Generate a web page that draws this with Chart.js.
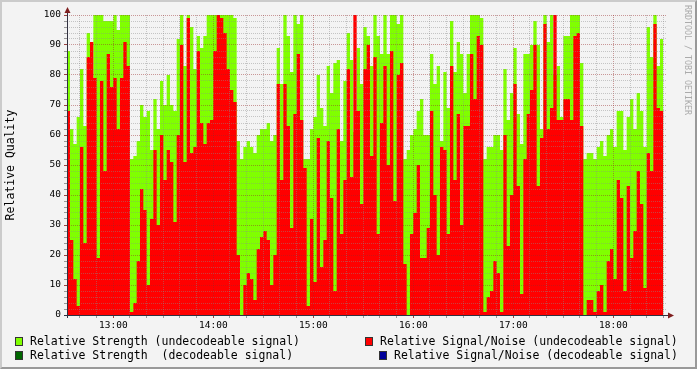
<!DOCTYPE html>
<html>
<head>
<meta charset="utf-8">
<script src="https://cdn.jsdelivr.net/npm/chart.js@4.4.1/dist/chart.umd.min.js"></script>
<style>
  html, body { margin: 0; padding: 0; background: #f3f3f3; }
  #wrap { position: relative; width: 697px; height: 369px; overflow: hidden; background: #f3f3f3; }
  #chart { position: absolute; left: 0; top: 0; }
  #frame { position: absolute; left: 0; top: 0; width: 697px; height: 369px; box-sizing: border-box;
           border-top: 2px solid #cbcbcb; border-left: 2px solid #cbcbcb;
           border-right: 2px solid #999; border-bottom: 2px solid #999; pointer-events: none; }
  #wm { position: absolute; left: 683px; top: 5px; writing-mode: vertical-rl; font: 8.3px 'DejaVu Sans Mono', monospace;
        line-height: 9px; color: #ababab; white-space: pre; }
  .sw { position: absolute; width: 6px; height: 7px; border: 1px solid #333; }
  .lt { position: absolute; font: 11.5px 'DejaVu Sans Mono', monospace; line-height: 14px; color: #000; white-space: pre; }
</style>
</head>
<body>
<div id="wrap">
  <canvas id="chart" width="697" height="369"></canvas>
  <div id="wm">RRDTOOL / TOBI OETIKER</div>
  <div class="sw" style="left:15px;top:337px;background:#80ff00"></div>
  <div class="lt" style="left:30px;top:334px">Relative Strength (undecodeable signal)</div>
  <div class="sw" style="left:365px;top:337px;background:#ff0000"></div>
  <div class="lt" style="left:380px;top:334px">Relative Signal/Noise (undecodeable signal)</div>
  <div class="sw" style="left:15px;top:351px;background:#006600"></div>
  <div class="lt" style="left:30px;top:348px">Relative Strength  (decodeable signal)</div>
  <div class="sw" style="left:379px;top:351px;background:#000099"></div>
  <div class="lt" style="left:394px;top:348px">Relative Signal/Noise (decodeable signal)</div>
  <div id="frame"></div>
</div>
<script>
// time in minutes since midnight, one value every 2 minutes from 12:32
const startMin = 752;
const stepMin = 2;

// Relative Strength (undecodeable signal)
const strength = [
  88,62,57,66,82,63,94,75,100,100, 100,98,98,98,100,95,100,100,100,52, 53,58,70,66,68,55,72,62,78,70,
  80,70,68,92,100,83,100,96,82,93, 89,93,100,100,100,100,100,100,100,100, 99,58,52,56,58,56,54,60,62,62,
  64,58,60,89,77,100,93,81,100,97, 100,52,52,62,66,80,69,63,83,74, 84,85,58,78,94,85,61,89,77,96,
  93,83,100,93,87,100,87,100,100,97, 100,52,55,60,62,68,72,60,60,87, 77,83,58,81,69,98,81,91,87,74,
  87,100,100,100,99,52,56,56,60,60, 55,82,65,74,89,67,57,87,87,90, 98,90,62,100,91,100,80,83,66,93,
  93,100,100,100,84,52,54,54,52,56, 58,53,60,62,56,68,68,55,66,72, 62,74,68,56,96,86,100,83,92
];

// Relative Signal/Noise (undecodeable signal)
const snr = [
  68,25,12,3,56,24,86,91,79,19, 78,48,87,76,79,62,79,91,83,1, 4,18,42,35,10,32,55,30,60,45,
  55,51,31,60,90,51,99,54,56,88, 64,57,64,65,88,100,99,94,82,75, 71,20,0,10,14,12,5,22,26,28,
  25,10,20,77,45,77,63,29,67,87, 65,49,3,32,11,59,16,25,58,39, 8,62,27,45,82,46,100,68,37,82,
  90,53,86,27,64,83,50,88,38,80, 84,17,0,27,34,50,19,19,29,68, 40,20,56,55,27,83,45,67,30,63,
  63,87,72,93,90,1,6,8,18,14, 1,60,23,40,77,43,7,52,67,75, 90,43,59,97,62,69,100,65,65,72,
  72,65,93,94,63,0,5,5,1,8, 10,1,18,22,12,45,39,8,43,19, 28,48,37,9,54,48,97,69,68
];

// grid / tick positions
const xTicks = [];
for (let m = 760; m <= 1110; m += 10) xTicks.push(m);
const yTicks = [];
for (let v = 0; v <= 100; v += 2) yTicks.push(v);

const monoFont = "'DejaVu Sans Mono', monospace";

function series(vals) {
  const pts = vals.map((v, i) => ({ x: startMin + i * stepMin, y: v }));
  pts.push({ x: startMin + vals.length * stepMin, y: vals[vals.length - 1] });
  return pts;
}

function hhmm(m) {
  const h = Math.floor(m / 60), mm = m % 60;
  return String(h).padStart(2, '0') + ':' + String(mm).padStart(2, '0');
}

const minorGrid = 'rgba(140,140,140,0.45)';
const majorGrid = 'rgba(150,40,40,0.45)';

// axis lines with the arrow heads
const axisArrows = {
  id: 'axisArrows',
  afterDraw(chart) {
    const { ctx, chartArea: a } = chart;
    ctx.save();
    ctx.strokeStyle = '#303040';
    ctx.lineWidth = 1;
    ctx.beginPath();
    ctx.moveTo(a.left + 0.5, a.bottom + 3);
    ctx.lineTo(a.left + 0.5, a.top - 6);
    ctx.moveTo(a.left - 3, a.bottom + 0.5);
    ctx.lineTo(a.right + 4, a.bottom + 0.5);
    ctx.stroke();
    ctx.fillStyle = '#7f1f1f';
    ctx.beginPath();
    ctx.moveTo(a.left - 2.5, a.top - 2);
    ctx.lineTo(a.left + 0.5, a.top - 8);
    ctx.lineTo(a.left + 3.5, a.top - 2);
    ctx.closePath();
    ctx.fill();
    ctx.beginPath();
    ctx.moveTo(a.right + 1, a.bottom - 2.5);
    ctx.lineTo(a.right + 7, a.bottom + 0.5);
    ctx.lineTo(a.right + 1, a.bottom + 3.5);
    ctx.closePath();
    ctx.fill();
    ctx.restore();
  }
};

const ctx = document.getElementById('chart').getContext('2d');
const chart = new Chart(ctx, {
  type: 'line',
  data: {
    datasets: [{
      label: 'Relative Signal/Noise (undecodeable signal)',
      data: series(snr),
      backgroundColor: '#ff0000',
      borderColor: 'rgba(0,0,0,0)',
      borderWidth: 0,
      pointRadius: 0,
      stepped: true,
      fill: 'origin'
    }, {
      label: 'Relative Strength (undecodeable signal)',
      data: series(strength),
      backgroundColor: '#80ff00',
      borderColor: 'rgba(0,0,0,0)',
      borderWidth: 0,
      pointRadius: 0,
      stepped: true,
      fill: 'origin'
    }]
  },
  options: {
    responsive: false,
    animation: false,
    events: [],
    layout: { padding: { top: 15, right: 30, bottom: 34, left: 0 } },
    plugins: {
      legend: { display: false },
      tooltip: { enabled: false }
    },
    scales: {
      x: {
        type: 'linear',
        min: 752.2,
        max: 1112.2,
        afterBuildTicks: s => { s.ticks = xTicks.map(v => ({ value: v })); },
        afterFit: s => { s.height = 20; },
        ticks: {
          autoSkip: false,
          maxRotation: 0,
          padding: 2,
          color: '#000',
          font: { family: monoFont, size: 9.5 },
          callback: v => (v % 60 === 0 ? hhmm(v) : '')
        },
        grid: {
          z: 1,
          color: c => (c.tick && c.tick.value % 60 === 0 ? majorGrid : minorGrid),
          tickColor: c => (c.tick && c.tick.value % 60 === 0 ? '#9a4040' : '#999'),
          tickLength: 3
        },
        border: { display: false, dash: [1, 1] }
      },
      y: {
        min: 0,
        max: 100,
        afterBuildTicks: s => { s.ticks = yTicks.map(v => ({ value: v })); },
        afterFit: s => { s.width = 67; },
        ticks: {
          autoSkip: false,
          padding: 3,
          color: '#000',
          font: { family: monoFont, size: 9.5 },
          callback: v => (v % 10 === 0 ? String(v) : '')
        },
        grid: {
          z: 1,
          color: c => (c.tick && c.tick.value % 10 === 0 ? majorGrid : minorGrid),
          tickColor: c => (c.tick && c.tick.value % 10 === 0 ? '#9a4040' : '#999'),
          tickLength: 3
        },
        border: { display: false, dash: [1, 1] },
        title: {
          display: true,
          text: 'Relative Quality',
          color: '#000',
          font: { family: monoFont, size: 11.5 },
          padding: { top: 4, bottom: 0 }
        }
      }
    }
  },
  plugins: [axisArrows]
});
</script>
</body>
</html>
